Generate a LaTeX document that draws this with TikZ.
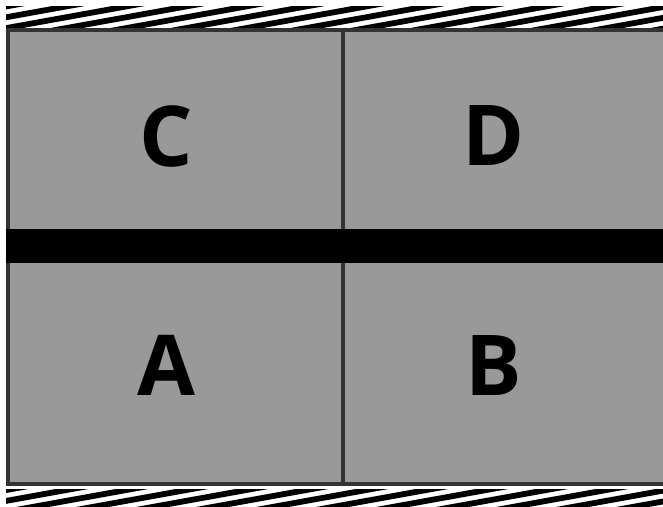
\documentclass[tikz,border=0pt]{standalone}
\usepackage{fontspec}
\setmainfont{Open Sans}
\begin{document}
\begin{tikzpicture}[x=1pt,y=-1pt,
  lbl/.style={font=\fontsize{84}{84}\selectfont\bfseries, text=black, inner sep=0pt},
  hatch/.style={line width=5.8pt, black}]
\definecolor{panelgray}{HTML}{999999}
\definecolor{edge}{HTML}{333333}
\useasboundingbox (0,0) rectangle (663,506);
\fill[white] (0,0) rectangle (663,506);
% top hatch strip
\begin{scope}
\clip (6,6) rectangle (663,27);
\foreach \i in {-4,...,12} {
  \draw[hatch] ({\i*60},40) -- ({\i*60+222},0);
}
\end{scope}
% bottom hatch strip
\begin{scope}
\clip (6,489) rectangle (663,506);
\foreach \i in {-4,...,12} {
  \draw[hatch] ({\i*60+20},520) -- ({\i*60+242},480);
}
\end{scope}
% grey field
\fill[panelgray] (6,28) rectangle (663,486);
% border
\draw[edge, line width=4pt] (663,30) -- (8,30) -- (8,484) -- (663,484);
% vertical divider
\draw[edge, line width=4.5pt] (343,28) -- (343,486);
% black bar
\fill[black] (6,229) rectangle (663,263);
% labels
\node[lbl] (C) at (166,136) {C};
\node[lbl] (D) at (494,136) {D};
\node[lbl] (A) at (166,365) {A};
\node[lbl] (B) at (494,366) {B};
\end{tikzpicture}
\end{document}
